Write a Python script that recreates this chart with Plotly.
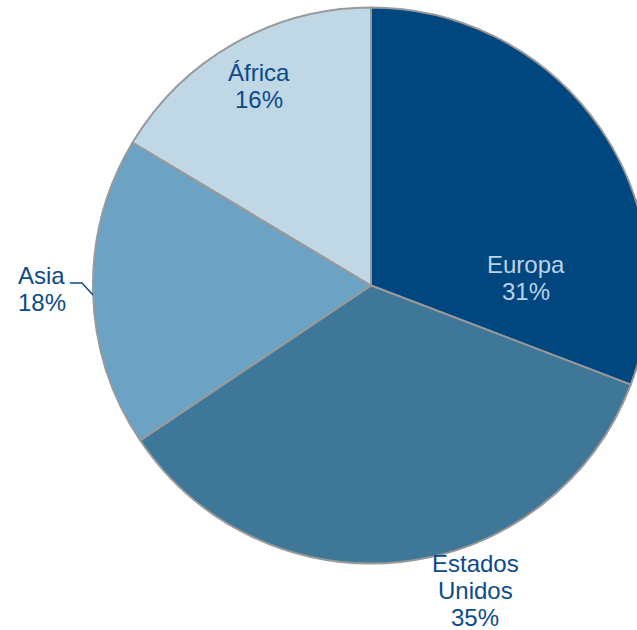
import plotly.graph_objects as go

regions = ["Europa", "Estados Unidos", "Asia", "África"]
shares = [30.8, 34.8, 18.0, 16.4]
label_lines = [["Europa"], ["Estados", "Unidos"], ["Asia"], ["África"]]
slice_colors = ["#00467f", "#3e7797", "#6ca3c4", "#c0d7e5"]
text_colors = ["#bcd3e8", "#0b4a8b", "#0b4a8b", "#0b4a8b"]

W, H = 660, 630
# first-line centre of each label in pixels
label_pos = [(526, 264), (475, 563), (42, 275), (259, 72)]
line_pitch = 27

fig = go.Figure()
fig.add_trace(go.Pie(
    labels=regions,
    values=shares,
    sort=False,
    direction="clockwise",
    rotation=0,
    textinfo="none",
    hoverinfo="label+percent",
    marker=dict(colors=slice_colors, line=dict(color="#999999", width=2)),
    domain=dict(x=[93 / W, 649 / W], y=[1 - 563.5 / H, 1 - 7.5 / H]),
))

total = sum(shares)
for name_lines, val, col, (px, py) in zip(label_lines, shares, text_colors, label_pos):
    lines = name_lines + [f"{round(val / total * 100)}%"]
    for i, line in enumerate(lines):
        fig.add_annotation(
            x=px / W, y=1 - (py + i * line_pitch) / H, xref="paper", yref="paper",
            xanchor="center", yanchor="middle",
            text=line, showarrow=False,
            font=dict(family="Liberation Sans, Arial, sans-serif", size=24, color=col),
        )

# leader line for Asia
fig.add_shape(
    type="path", xref="paper", yref="paper",
    path=f"M {70/W},{1-283/H} L {82/W},{1-283/H} L {93/W},{1-295/H}",
    line=dict(color="#0b4a8b", width=1.5),
)

fig.update_layout(
    width=W, height=H, autosize=False,
    showlegend=False,
    margin=dict(l=0, r=0, t=0, b=0),
    paper_bgcolor="white", plot_bgcolor="white",
)

fig.write_html(
    "out.html",
    config={"displayModeBar": False},
    post_script="document.body.style.margin='0';document.body.style.overflow='hidden';",
)
